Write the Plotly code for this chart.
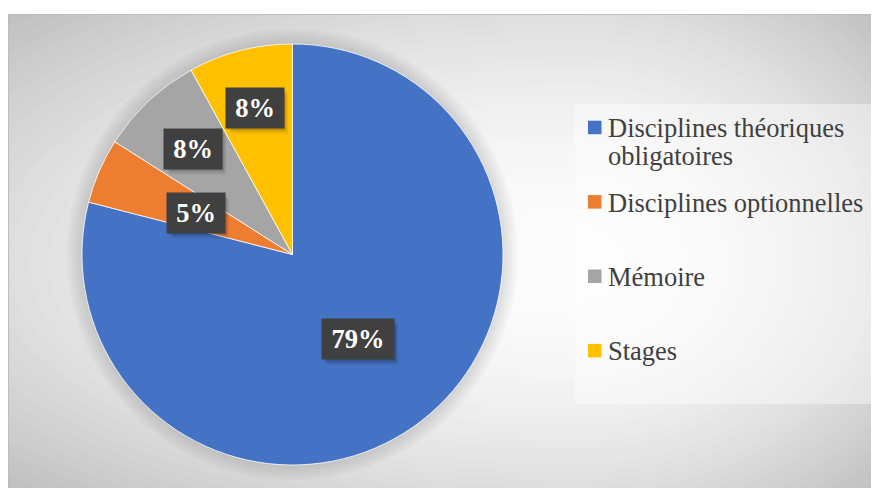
import numpy as np
import plotly.graph_objects as go

# the page body adds an 8px margin, so the figure is drawn at (8, 8)
PAD = 8
PW, PH = 879, 488          # page size
W, H = PW - PAD, PH - PAD  # figure size

labels = ["Disciplines théoriques<br>obligatoires", "Disciplines optionnelles", "Mémoire", "Stages"]
values = [79, 5, 8, 8]
colors = ["#4472C4", "#ED7D31", "#A5A5A5", "#FFC000"]


def paper_x(x):
    return (x - PAD) / W


def paper_y(y):
    return 1 - (y - PAD) / H


# pie box in page pixels and label radial positions (fraction of radius)
pie_left, pie_right, pie_top, pie_bottom = 82, 503, 44, 465
label_r = [0.51, 0.50, 0.69, 0.72]

cx = (pie_left + pie_right) / 2
cy = (pie_top + pie_bottom) / 2
rad = (pie_right - pie_left) / 2

fig = go.Figure()
fig.add_trace(go.Pie(
    labels=labels, values=values, sort=False, direction="clockwise", rotation=0,
    marker=dict(colors=colors, line=dict(color="white", width=0.8)),
    textinfo="none", hoverinfo="label+percent", showlegend=False,
    domain=dict(x=[paper_x(pie_left), paper_x(pie_right)], y=[paper_y(pie_bottom), paper_y(pie_top)]),
))

shapes = []

# radial-ish background gradient, built from stacked ellipses
gx, gy = 575, 265
rxl, rxr, ryt, ryb = gx - 8, PW - gx, gy - 14, PH - gy
t = np.linspace(0, 2 * np.pi, 90)
for u in np.linspace(1.55, 0.03, 45):
    xs = gx + np.where(np.cos(t) > 0, rxr, rxl) * u * np.cos(t)
    ys = gy + np.where(np.sin(t) > 0, ryb, ryt) * u * np.sin(t)
    path = "M" + "L".join(f"{a:.1f},{b:.1f}" for a, b in zip(xs, ys)) + "Z"
    g = int(max(192, 253 - 30 * u ** 2))
    shapes.append(dict(type="path", path=path, xref="x", yref="y", layer="below",
                       fillcolor=f"rgb({g},{g},{g})", line=dict(width=0)))

# soft halo around the pie
for k in [3, 6, 9, 12, 15]:
    shapes.append(dict(type="circle", xref="x", yref="y", layer="below",
                       x0=cx - rad - k, x1=cx + rad + k, y0=cy - rad - k, y1=cy + rad + k,
                       fillcolor="rgba(0,0,0,0.022)", line=dict(width=0)))

# chart frame
shapes.append(dict(type="rect", xref="x", yref="y", layer="below", x0=8.5, x1=PW + 2, y0=14.5, y1=PH + 2,
                   line=dict(color="#bdbdbd", width=1), fillcolor="rgba(0,0,0,0)"))

# legend box
shapes.append(dict(type="rect", xref="x", yref="y", layer="below", x0=575, x1=875, y0=104, y1=404,
                   fillcolor="rgba(255,255,255,0.4)", line=dict(width=0)))

annotations = []
serif = "Liberation Serif, Times New Roman, serif"

# legend entries
leg_font = dict(family=serif, size=26.5, color="#404040")
for i, (lab, col) in enumerate(zip(labels, colors)):
    base = 136.7 + 74.4 * i
    shapes.append(dict(type="rect", xref="x", yref="y", layer="below",
                       x0=588, x1=601.5, y0=base - 16, y1=base - 2.5,
                       fillcolor=col, line=dict(width=0)))
    for j, line in enumerate(lab.split("<br>")):
        annotations.append(dict(text=line, x=paper_x(606), y=paper_y(base - 8.5 + 28.3 * j),
                                xref="paper", yref="paper", xanchor="left", yanchor="middle",
                                showarrow=False, font=leg_font))

# percentage labels in dark boxes with a drop shadow
total = sum(values)
cum = 0
for v, fr in zip(values, label_r):
    mid = (cum + v / 2) / total * 2 * np.pi
    cum += v
    px = cx + np.sin(mid) * rad * fr
    py = cy - np.cos(mid) * rad * fr
    txt = f"{v / total * 100:.0f}%"
    bw = 20 + 14 * len(txt)
    half_w, half_h = bw / 2 + 5, 20
    for k, a in [(2, 0.12), (4, 0.10), (6, 0.06)]:
        shapes.append(dict(type="rect", xref="x", yref="y", layer="above",
                           x0=px - half_w + k, x1=px + half_w + k * 0.7,
                           y0=py - half_h + k, y1=py + half_h + k,
                           fillcolor=f"rgba(0,0,0,{a})", line=dict(width=0)))
    annotations.append(dict(
        text=f"<b>{txt}</b>", x=paper_x(px), y=paper_y(py), xref="paper", yref="paper",
        xanchor="center", yanchor="middle", showarrow=False,
        width=bw, height=30, borderpad=5, bgcolor="#404040",
        font=dict(family=serif, size=26.5, color="white"),
    ))

fig.update_layout(
    width=W, height=H,
    margin=dict(l=0, r=0, t=0, b=0),
    paper_bgcolor="white", plot_bgcolor="#c4c4c4",
    xaxis=dict(domain=[0, 1], range=[PAD, PW], visible=False, fixedrange=True),
    yaxis=dict(domain=[0, 1 - (14 - PAD) / H], range=[PH, 14], visible=False, fixedrange=True),
    shapes=shapes, annotations=annotations,
)

fig.write_html("out.html")
